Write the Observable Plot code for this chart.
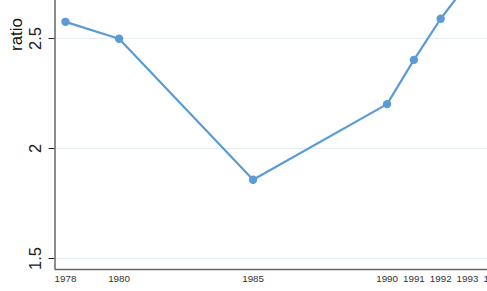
<!DOCTYPE html>
<html>
<head>
<meta charset="utf-8">
<script src="https://cdn.jsdelivr.net/npm/d3@7"></script>
<script src="https://cdn.jsdelivr.net/npm/@observablehq/plot@0.6"></script>
<style>
  html, body { margin: 0; padding: 0; background: #fff; overflow: hidden; width: 487px; height: 291px; }
  #chart { width: 560px; }
  #chart svg { display: block; max-width: none !important; }
</style>
</head>
<body>
<div id="chart"></div>
<script>
const years  = [1978, 1980, 1985, 1990, 1991, 1992, 1993, 1994];
const ratios = [2.576, 2.499, 1.858, 2.202, 2.403, 2.59, 2.75, 2.9];
const xTicks = [1978, 1980, 1985, 1990, 1991, 1992, 1993, 1994];
const yTicks = [1.5, 2, 2.5];
const yTitle = "ratio";

const data = years.map((y, i) => ({year: y, ratio: ratios[i]}));

const lineColor = "#5b9bd5";

const chart = Plot.plot({
  width: 560,
  height: 291,
  marginLeft: 54.5,
  marginRight: 39.4,
  marginTop: 0,
  marginBottom: 22,
  style: {fontFamily: "'Liberation Sans', Arial, sans-serif", background: "#fff", overflow: "visible", maxWidth: "none"},
  x: {domain: [1977.61, 1995]},
  y: {domain: [1.45, 2.673]},
  marks: [
    Plot.gridY(yTicks, {stroke: "#e6eef2", strokeOpacity: 1, strokeWidth: 1}),
    Plot.axisX({ticks: xTicks, tickSize: 0, tickPadding: 6, tickFormat: d => String(d), fontSize: 9.8, color: "#333", label: null}),
    Plot.axisY({ticks: yTicks, tickSize: 6, tickPadding: 8, tickRotate: -90, tickFormat: d => String(d), fontSize: 16.5, color: "#222", label: null}),
    Plot.ruleX([1977.61], {stroke: "#666", strokeWidth: 1.5}),
    Plot.ruleY([1.45], {stroke: "#666", strokeWidth: 1.5}),
    Plot.line(data, {x: "year", y: "ratio", stroke: lineColor, strokeWidth: 2.2, clip: true}),
    Plot.dot(data, {x: "year", y: "ratio", fill: lineColor, r: 4.2, clip: true}),
    Plot.text([yTitle], {text: d => d, frameAnchor: "top-left", dx: -45.5, dy: 34, rotate: -90, fontSize: 17, fill: "#111", textAnchor: "middle"})
  ]
});
document.getElementById("chart").appendChild(chart);
</script>
</body>
</html>
